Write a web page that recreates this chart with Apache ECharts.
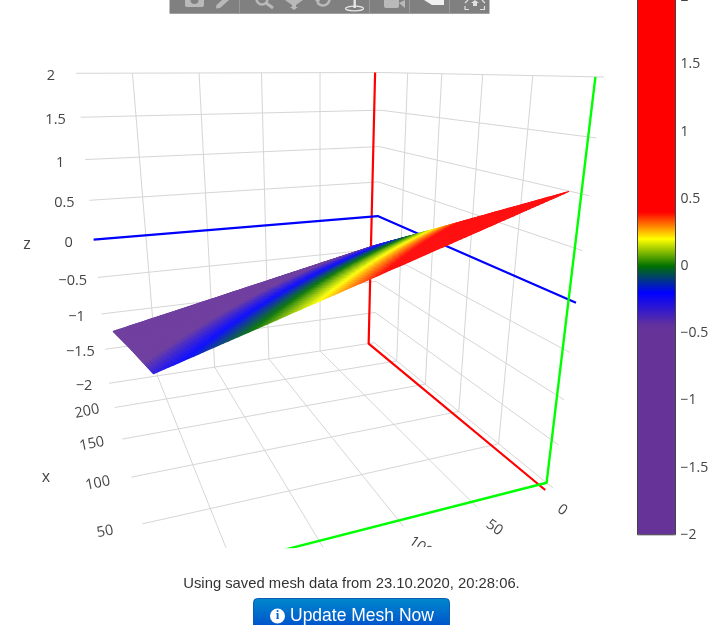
<!DOCTYPE html>
<html><head><meta charset="utf-8">
<style>html,body{margin:0;padding:0;background:#fff;overflow:hidden}#c{width:720px;height:625px}</style>
<script src="https://cdn.jsdelivr.net/npm/echarts@6/dist/echarts.min.js"></script>
</head><body><div id="c"></div>
<script>
// ---- data ----
const xRange = [-6, 245];
const yRange = [-6, 240];
const zRange = [-2, 2];
const xTicks = [50, 100, 150, 200];
const yTicks = [50, 100, 150, 200];
const zTicks = [-2, -1.5, -1, -0.5, 0, 0.5, 1, 1.5, 2];
const xLabelTicks = [50, 100, 150, 200];
const yLabelTicks = [0, 50, 100];
const meshX = [[0, 118, 235], [11, 123, 235], [22, 128, 235]];
const meshY = [[3, 3, 3], [116, 116, 118], [230, 231, 233]];
const meshZ = [[1.03, 0.31, -0.4], [0.375, -0.21, -0.8], [-0.28, -0.74, -1.2]];
const redAxis = [[-6, 0, -2], [245, 0, -2], [245, 0, 2]];
const greenAxis = [[0, -6, 2], [0, -6, -2], [0, 240, -2]];
const blueAxis = [[-6, -6, 0], [245, -6, 0], [245, 240, 0]];
const scaleValues = [-2, -0.45, -0.2, 0, 0.2, 0.4, 2];
const scaleColors = ['#663399', '#663399', '#0000ff', '#007000', '#ffff00', '#ff0000', '#ff0000'];
const footerText = 'Using saved mesh data from 23.10.2020, 20:28:06.';
const buttonText = 'Update Mesh Now';

// ---- camera: homogeneous projection of the normalised plot box ----
const cam = {
  o: [553, 488, 1],
  s: [17.47, 34.31, 0.5241],
  t: [-425.72, -13.31, -0.1961],
  r: [-57.66, -424.85, -0.1799]
};
function project(p) {
  const s = (p[0] - xRange[0]) / (xRange[1] - xRange[0]);
  const t = (p[1] - yRange[0]) / (yRange[1] - yRange[0]);
  const r = (p[2] - zRange[0]) / (zRange[1] - zRange[0]);
  const h = [0, 1, 2].map(i => cam.o[i] + s * cam.s[i] + t * cam.t[i] + r * cam.r[i]);
  return [h[0] / h[2], h[1] / h[2]];
}
function lineSeries(pts, color, width, z) {
  return {
    type: 'line', xAxisIndex: 0, yAxisIndex: 0, data: pts.map(project), symbol: 'none',
    lineStyle: { color: color, width: width }, silent: true, animation: false, clip: true, z: z
  };
}

// gridlines
const GRID = '#d6d6d6';
const series = [];
const wall = (a, b) => series.push(lineSeries([a, b], GRID, 1, 1));
xTicks.forEach(x => {
  wall([x, yRange[0], -2], [x, yRange[1], -2]);
  wall([x, yRange[0], -2], [x, yRange[0], 2]);
});
yTicks.forEach(y => {
  wall([xRange[0], y, -2], [xRange[1], y, -2]);
  wall([xRange[1], y, -2], [xRange[1], y, 2]);
});
zTicks.forEach(z => {
  wall([xRange[0], yRange[0], z], [xRange[1], yRange[0], z]);
  wall([xRange[1], yRange[0], z], [xRange[1], yRange[1], z]);
});
// coloured reference lines
series.push(lineSeries(redAxis, '#ff0000', 2.2, 2));
series.push(lineSeries(blueAxis, '#0000ff', 2.2, 2));
series.push(lineSeries(greenAxis, '#00ff00', 2.4, 2));

// surface: shaded sub-cells of the mesh
function meshAt(a, b) {
  const i = Math.min(Math.floor(a), 1), j = Math.min(Math.floor(b), 1);
  const u = a - i, v = b - j;
  const f = m => (1 - u) * (1 - v) * m[j][i] + u * (1 - v) * m[j][i + 1] + (1 - u) * v * m[j + 1][i] + u * v * m[j + 1][i + 1];
  return [f(meshX), f(meshY), f(meshZ)];
}
const SUB = 45;
const cells = [];
for (let j = 0; j < 2 * SUB; j++) {
  for (let i = 0; i < 2 * SUB; i++) {
    const c = meshAt((i + 0.5) / SUB, (j + 0.5) / SUB);
    const pc = project(c);
    cells.push([pc[0], pc[1], c[2], i, j]);
  }
}
const surfaceIndex = series.length;
series.push({
  type: 'custom', xAxisIndex: 0, yAxisIndex: 0, data: cells, silent: true, animation: false, clip: true, z: 5,
  encode: { x: 0, y: 1 }, progressive: 0,
  renderItem: function (params, api) {
    const i = api.value(3), j = api.value(4);
    const col = echarts.color.lerp(0.07, [api.visual('color'), '#ffffff']);
    const corners = [[i, j], [i + 1, j], [i + 1, j + 1], [i, j + 1]].map(q =>
      api.coord(project(meshAt(q[0] / SUB, q[1] / SUB))));
    return { type: 'polygon', shape: { points: corners }, style: { fill: col, stroke: col, lineWidth: 1.1, lineJoin: 'round' } };
  }
});

// tick labels attached to the box edges
const tickFont = '14.5px "Open Sans"';
function labelSeries(items) {
  return {
    type: 'custom', xAxisIndex: 0, yAxisIndex: 0, data: items.map((d, k) => [d.p[0], d.p[1], k]),
    silent: true, animation: false, clip: true, z: 6, encode: { x: 0, y: 1 },
    renderItem: function (params, api) {
      const d = items[api.value(2)], c = api.coord(d.p);
      return {
        type: 'text', x: c[0] + d.dx, y: c[1] + d.dy, rotation: d.rot,
        style: { text: d.text, x: 0, y: 0, fill: '#444', font: tickFont, align: 'center', verticalAlign: 'middle' }
      };
    }
  };
}
const minus = v => String(v).replace('-', '\u2212');
series.push(labelSeries(zTicks.map(z => ({ p: project([xRange[1], yRange[1], z]), dx: -25, dy: 3, rot: 0, text: minus(z) }))));
series.push(labelSeries(xLabelTicks.map(x => ({ p: project([x, 262, -2]), dx: 2, dy: -1, rot: 0.2, text: String(x) }))));
series.push(labelSeries(yLabelTicks.map(y => ({ p: project([xRange[0], y, -2]), dx: 17, dy: 20, rot: -0.62, text: String(y) }))));

// colour scale sampled every 0.05 for the visual map
const chart = echarts.init(document.getElementById('c'));
const scaleArray = [];
for (let k = 0; k <= 80; k++) {
  const v = -2 + k * 0.05;
  let n = 0;
  while (n < scaleValues.length - 2 && v > scaleValues[n + 1] + 1e-9) n++;
  const f = Math.min(1, Math.max(0, (v - scaleValues[n]) / (scaleValues[n + 1] - scaleValues[n])));
  scaleArray.push(echarts.color.lerp(f, [scaleColors[n], scaleColors[n + 1]]));
}

// modebar + page furniture
const ICON = '#b9b9b9';
const G = [];
G.push({ type: 'rect', shape: { x: 169.5, y: -2, width: 320, height: 15.7 }, style: { fill: '#808080' } });
[239.5, 369.5, 409.5, 449.5].forEach(x => G.push({ type: 'line', shape: { x1: x, y1: 0, x2: x, y2: 13.7 }, style: { stroke: '#9a9a9a', lineWidth: 1 } }));
// camera
G.push({ type: 'rect', shape: { x: 185, y: -3, width: 19, height: 10, r: 2 }, style: { fill: ICON } });
G.push({ type: 'circle', shape: { cx: 194.5, cy: 0, r: 4 }, style: { fill: '#808080' } });
// pencil
G.push({ type: 'polygon', shape: { points: [[222, 0], [229, 0], [220, 8], [216, 8.5], [216.5, 5]] }, style: { fill: ICON } });
// magnifier
G.push({ type: 'circle', shape: { cx: 262, cy: -1, r: 5.5 }, style: { fill: 'none', stroke: ICON, lineWidth: 2.4 } });
G.push({ type: 'line', shape: { x1: 266, y1: 3, x2: 273, y2: 8 }, style: { stroke: ICON, lineWidth: 3 } });
// pan
G.push({ type: 'polygon', shape: { points: [[285, 0], [303, 0], [296, 5], [296, 7], [298, 7], [294, 10], [290, 7], [292, 7], [292, 5]] }, style: { fill: ICON } });
// orbit
G.push({ type: 'arc', shape: { cx: 323, cy: -1, r: 6.5, startAngle: 0.1, endAngle: 2.6 }, style: { fill: 'none', stroke: ICON, lineWidth: 2.6 } });
G.push({ type: 'polygon', shape: { points: [[315, 0], [320, 0], [318, 4]] }, style: { fill: ICON } });
// turntable
G.push({ type: 'ellipse', shape: { cx: 354.5, cy: 8.5, rx: 9, ry: 2.4 }, style: { fill: 'none', stroke: '#e6e6e6', lineWidth: 1.3 } });
G.push({ type: 'rect', shape: { x: 353.5, y: 0, width: 2.4, height: 8 }, style: { fill: '#e6e6e6' } });
// video
G.push({ type: 'rect', shape: { x: 384, y: -3, width: 15, height: 11, r: 2 }, style: { fill: ICON } });
G.push({ type: 'polygon', shape: { points: [[399, 3], [405, 0], [405, 8]] }, style: { fill: ICON } });
// home
G.push({ type: 'polygon', shape: { points: [[424, 0], [444, 0], [444, 5], [432, 5]] }, style: { fill: '#f0f0f0' } });
// autoscale
G.push({ type: 'polyline', shape: { points: [[465, 6], [465, 9.5], [469, 9.5]] }, style: { fill: 'none', stroke: '#e0e0e0', lineWidth: 1.2 } });
G.push({ type: 'polyline', shape: { points: [[480, 9.5], [484.5, 9.5], [484.5, 6]] }, style: { fill: 'none', stroke: '#e0e0e0', lineWidth: 1.2 } });
G.push({ type: 'polygon', shape: { points: [[471, 3], [475, 0], [479, 3], [477, 3], [477, 6], [473, 6], [473, 3]] }, style: { fill: '#e0e0e0' } });
G.push({ type: 'polyline', shape: { points: [[465, 3], [468, 0]] }, style: { fill: 'none', stroke: '#e0e0e0', lineWidth: 1.2 } });
G.push({ type: 'polyline', shape: { points: [[482, 0], [485, 3]] }, style: { fill: 'none', stroke: '#e0e0e0', lineWidth: 1.2 } });
// axis titles
G.push({ type: 'text', x: 27, y: 244, style: { text: 'z', fill: '#444', font: '16px "Open Sans"', align: 'center', verticalAlign: 'middle' } });
G.push({ type: 'text', x: 46, y: 477, style: { text: 'x', fill: '#444', font: '16px "Open Sans"', align: 'center', verticalAlign: 'middle' } });
// footer
G.push({ type: 'text', x: 351.5, y: 584, style: { text: footerText, fill: '#333', font: '14.8px "Liberation Sans"', align: 'center', verticalAlign: 'middle' } });
G.push({ type: 'rect', shape: { x: 253.5, y: 598.5, width: 196, height: 36, r: 4 }, style: {
  fill: new echarts.graphic.LinearGradient(0, 0, 0, 1, [{ offset: 0, color: '#0088cc' }, { offset: 1, color: '#0044cc' }]), stroke: '#0a5fb0', lineWidth: 1 } });
G.push({ type: 'circle', shape: { cx: 277.5, cy: 616, r: 7.5 }, style: { fill: '#fff' } });
G.push({ type: 'text', x: 277.5, y: 616, style: { text: 'i', fill: '#0066cc', font: 'bold 13px "Liberation Serif"', align: 'center', verticalAlign: 'middle' } });
G.push({ type: 'text', x: 290, y: 616, style: { text: buttonText, fill: '#fff', font: '17.5px "Liberation Sans"', align: 'left', verticalAlign: 'middle' } });

chart.setOption({
  animation: false,
  backgroundColor: '#fff',
  grid: [
    { left: 0, top: 0, width: 720, height: 547, show: false, outerBoundsMode: 'none' },
    { left: 637.5, top: -2.8, width: 38, height: 537.6, show: true, backgroundColor: 'transparent', borderColor: '#444', borderWidth: 1, z: 10, outerBoundsMode: 'none' }
  ],
  xAxis: [
    { type: 'value', gridIndex: 0, min: 0, max: 720, show: false },
    { type: 'value', gridIndex: 1, min: 0, max: 1, show: false }
  ],
  yAxis: [
    { type: 'value', gridIndex: 0, min: 0, max: 547, inverse: true, show: false },
    { type: 'value', gridIndex: 1, min: -2, max: 2, interval: 0.5, position: 'right',
      axisLine: { show: false }, axisTick: { show: false }, splitLine: { show: false },
      axisLabel: { show: true, margin: 5, color: '#444', fontFamily: 'Open Sans', fontSize: 14, formatter: minus, hideOverlap: false, showMinLabel: true, showMaxLabel: true } }
  ],
  visualMap: {
    type: 'continuous', min: -2, max: 2, dimension: 2, seriesIndex: surfaceIndex,
    calculable: false, realtime: false, hoverLink: false, left: 637.5, top: -2.8, itemWidth: 38, itemHeight: 537.6, padding: 0,
    text: null, showLabel: false, inRange: { color: scaleArray }
  },
  graphic: { elements: G },
  series: series
});
</script></body></html>
